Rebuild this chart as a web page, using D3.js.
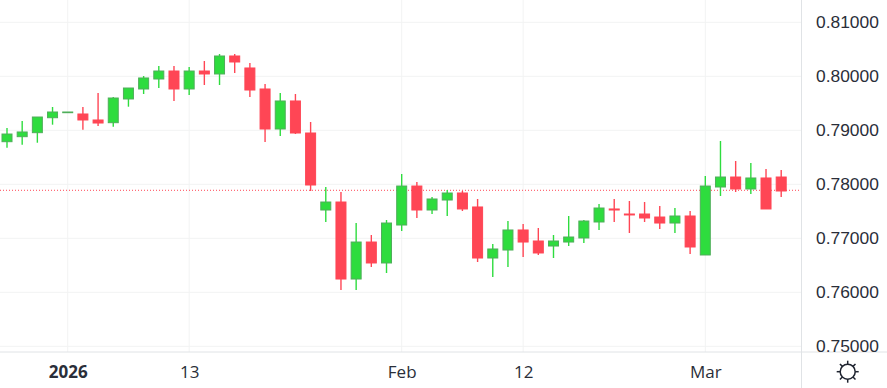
<!DOCTYPE html>
<html>
<head>
<meta charset="utf-8">
<script src="https://cdn.jsdelivr.net/npm/d3@7"></script>
<style>
  html, body { margin: 0; padding: 0; background: #fff; }
  svg { display: block; font-family: "Open Sans", sans-serif; }
  .domain { display: none; }
</style>
</head>
<body>
<svg id="chart" width="887" height="388"></svg>
<script>
var dates = [
  "2025-12-26", "2025-12-29", "2025-12-30", "2025-12-31",
  "2026-01-01", "2026-01-02", "2026-01-05", "2026-01-06", "2026-01-07", "2026-01-08", "2026-01-09",
  "2026-01-12", "2026-01-13", "2026-01-14", "2026-01-15", "2026-01-16",
  "2026-01-19", "2026-01-20", "2026-01-21", "2026-01-22", "2026-01-23",
  "2026-01-26", "2026-01-27", "2026-01-28", "2026-01-29", "2026-01-30",
  "2026-02-02", "2026-02-03", "2026-02-04", "2026-02-05", "2026-02-06",
  "2026-02-09", "2026-02-10", "2026-02-11", "2026-02-12", "2026-02-13",
  "2026-02-16", "2026-02-17", "2026-02-18", "2026-02-19", "2026-02-20",
  "2026-02-23", "2026-02-24", "2026-02-25", "2026-02-26", "2026-02-27",
  "2026-03-02", "2026-03-03", "2026-03-04", "2026-03-05", "2026-03-06", "2026-03-09"
];
var opens = [
  .78789, .78882, .78956, .79233, .79326, .79302, .79191, .79141, .79580, .79765, .79950,
  .80098, .79765, .80098, .80043, .80376, .80154, .79765, .79024, .79543, .78950,
  .77524, .77672, .76246, .76931, .76543, .77246, .77968, .77524, .77709, .77839,
  .77580, .76635, .76783, .77154, .76950, .76857, .76931, .77006, .77302, .77543,
  .77450, .77450, .77394, .77283, .77413, .76691, .77950, .78135, .77913, .78117, .78135
];
var highs = [
  .79043, .79172, .79246, .79432, .79339, .79432, .79691, .79617, .79783, .80006, .80191,
  .80191, .80172, .80283, .80413, .80413, .80246, .79857, .79691, .79672, .79154,
  .77950, .77857, .77283, .77061, .77339, .78191, .78043, .77765, .77894, .77876,
  .77728, .76894, .77320, .77265, .77191, .77061, .77413, .77339, .77635, .77728,
  .77691, .77672, .77598, .77561, .77506, .78154, .78802, .78432, .78394, .78283, .78265
];
var lows = [
  .78678, .78733, .78770, .79104, .79326, .79011, .79080, .79067, .79437, .79672, .79783,
  .79543, .79654, .79839, .79839, .80061, .79617, .78783, .78894, .78931, .77876,
  .77302, .76043, .76043, .76468, .76357, .77135, .77376, .77450, .77413, .77506,
  .76561, .76283, .76468, .76654, .76691, .76635, .76857, .76913, .77154, .77302,
  .77098, .77302, .77172, .77098, .76709, .76691, .77783, .77857, .77820, .77543, .77765
];
var closes = [
  .78931, .78969, .79246, .79339, .79339, .79191, .79135, .79598, .79783, .79969, .80098,
  .79765, .80098, .80043, .80376, .80265, .79746, .79024, .79543, .78950, .77987,
  .77672, .76246, .76931, .76543, .77283, .77968, .77524, .77728, .77839, .77543,
  .76635, .76802, .77154, .76931, .76728, .76950, .77024, .77320, .77561, .77524,
  .77432, .77376, .77283, .77413, .76839, .77968, .78135, .77913, .78117, .77543, .77876
];

var priceTicks = [0.75, 0.76, 0.77, 0.78, 0.79, 0.80, 0.81];
var dateTicks = ["2026-01-01", "2026-01-13", "2026-02-02", "2026-02-12", "2026-03-02"];
var dateLabels = ["2026", "13", "Feb", "12", "Mar"];
var lastPrice = 0.77889;

var width = 887, height = 388;
var plotRight = 801.5, plotBottom = 352;
var upColor = "#2edc3e", upBorder = "#4fae5a", downColor = "#ff4655";

var svg = d3.select("#chart");

var x = d3.scalePoint().domain(dates).range([7, 781.2]);
var y = d3.scaleLinear().domain([0.75, 0.81]).range([346.3, 22.3]);

// grid first, candles sit on top
var grid = svg.append("g").attr("stroke", "#f2f3f3").attr("stroke-width", 1);
grid.selectAll(".h").data(priceTicks).join("line")
  .attr("x1", 0).attr("x2", plotRight)
  .attr("y1", function (d) { return y(d); }).attr("y2", function (d) { return y(d); });
grid.selectAll(".v").data(dateTicks).join("line")
  .attr("y1", 0).attr("y2", plotBottom)
  .attr("x1", function (d) { return x(d); }).attr("x2", function (d) { return x(d); });

svg.append("line")
  .attr("x1", 0).attr("x2", plotRight)
  .attr("y1", y(lastPrice)).attr("y2", y(lastPrice))
  .attr("stroke", downColor).attr("stroke-width", 1).attr("stroke-dasharray", "1 2");

var candles = svg.append("g").selectAll("g").data(dates).join("g");

candles.append("line")
  .attr("x1", function (d) { return x(d); })
  .attr("x2", function (d) { return x(d); })
  .attr("y1", function (d, i) { return y(highs[i]); })
  .attr("y2", function (d, i) { return y(lows[i]); })
  .attr("stroke", function (d, i) { return closes[i] >= opens[i] ? upColor : downColor; })
  .attr("stroke-width", 1.4);

candles.append("rect")
  .attr("x", function (d) { return x(d) - 5; })
  .attr("width", 10)
  .attr("y", function (d, i) { return y(Math.max(opens[i], closes[i])); })
  .attr("height", function (d, i) { return Math.abs(y(opens[i]) - y(closes[i])); })
  .attr("fill", function (d, i) { return closes[i] >= opens[i] ? upColor : downColor; })
  .attr("stroke", function (d, i) { return closes[i] >= opens[i] ? upBorder : downColor; })
  .attr("stroke-width", 1);

// panel borders
svg.append("line").attr("x1", plotRight).attr("x2", plotRight).attr("y1", 0).attr("y2", height)
  .attr("stroke", "#e0e3e6");
svg.append("line").attr("x1", 0).attr("x2", width).attr("y1", plotBottom).attr("y2", plotBottom)
  .attr("stroke", "#e0e3e6");

var yAxis = d3.axisRight(y).tickValues(priceTicks).tickSize(0).tickPadding(0)
  .tickFormat(d3.format(".5f"));
svg.append("g").attr("transform", "translate(816,0)").call(yAxis)
  .selectAll("text").attr("font-size", 17.4).attr("font-family", "'Liberation Sans', sans-serif")
  .attr("fill", "#2a2e39");

var xAxis = d3.axisBottom(x).tickValues(dateTicks).tickSize(0).tickPadding(0)
  .tickFormat(function (d) { return dateLabels[dateTicks.indexOf(d)]; });
svg.append("g").attr("transform", "translate(0,366)").call(xAxis)
  .selectAll("text").attr("font-size", 17).attr("font-family", "'Open Sans', sans-serif")
  .attr("fill", "#2a2e39")
  .attr("font-weight", function (d) { return d === "2026-01-01" ? 700 : 400; });

// settings icon
var sun = svg.append("g").attr("transform", "translate(847.7,371.7)")
  .attr("stroke", "#1f2430").attr("fill", "none").attr("stroke-width", 1.5);
sun.append("circle").attr("r", 7.5);
d3.range(8).forEach(function (k) {
  var a = k * Math.PI / 4 + Math.PI / 2;
  sun.append("line")
    .attr("x1", 7.5 * Math.cos(a)).attr("y1", 7.5 * Math.sin(a))
    .attr("x2", 11 * Math.cos(a)).attr("y2", 11 * Math.sin(a));
});
</script>
</body>
</html>
